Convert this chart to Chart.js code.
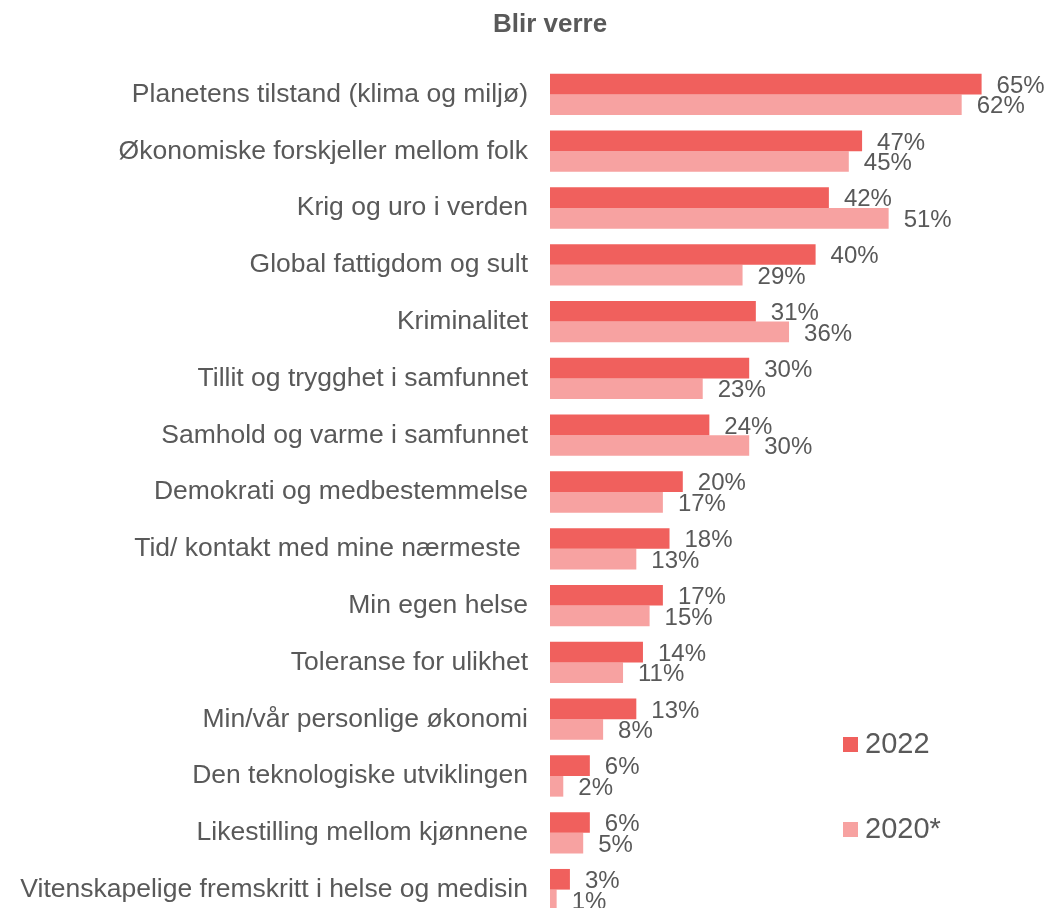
<!DOCTYPE html>
<html>
<head>
<meta charset="utf-8">
<title>Blir verre</title>
<script src="https://cdn.jsdelivr.net/npm/chart.js@4/dist/chart.umd.min.js"></script>
<style>
  html, body { margin: 0; padding: 0; background: #fff; overflow: hidden; }
  #chart { display: block; }
</style>
</head>
<body>
<canvas id="chart" width="1048" height="922"></canvas>
<script>
// data
const categories = [
    'Planetens tilstand (klima og miljø)',
    'Økonomiske forskjeller mellom folk',
    'Krig og uro i verden',
    'Global fattigdom og sult',
    'Kriminalitet',
    'Tillit og trygghet i samfunnet',
    'Samhold og varme i samfunnet',
    'Demokrati og medbestemmelse',
    'Tid/ kontakt med mine nærmeste ',
    'Min egen helse',
    'Toleranse for ulikhet',
    'Min/vår personlige økonomi',
    'Den teknologiske utviklingen',
    'Likestilling mellom kjønnene',
    'Vitenskapelige fremskritt i helse og medisin'
];
const values2022 = [65, 47, 42, 40, 31, 30, 24, 20, 18, 17, 14, 13, 6, 6, 3];
const values2020 = [62, 45, 51, 29, 36, 23, 30, 17, 13, 15, 11, 8, 2, 5, 1];
const seriesNames = ['2022', '2020*'];
const chartTitle = 'Blir verre';

const FONT = '"Liberation Sans", Arial, sans-serif';
const TEXT = '#595959';
const COLORS = ['#F0605D', '#F7A2A1'];

// value labels at the end of every bar
const valueLabels = {
    id: 'valueLabels',
    afterDatasetsDraw(chart) {
        const ctx = chart.ctx;
        ctx.save();
        ctx.font = '24px ' + FONT;
        ctx.fillStyle = TEXT;
        ctx.textAlign = 'left';
        ctx.textBaseline = 'middle';
        chart.data.datasets.forEach((ds, i) => {
            const meta = chart.getDatasetMeta(i);
            meta.data.forEach((bar, j) => {
                ctx.fillText(ds.data[j] + '%', bar.x + 15, bar.y + 2);
            });
        });
        ctx.restore();
    }
};

// title and the legend that sits inside the plot
const titleAndLegend = {
    id: 'titleAndLegend',
    afterDraw(chart) {
        const ctx = chart.ctx;
        const area = chart.chartArea;
        ctx.save();
        ctx.fillStyle = TEXT;
        ctx.font = 'bold 26px ' + FONT;
        ctx.textAlign = 'center';
        ctx.textBaseline = 'middle';
        ctx.fillText(chartTitle, area.left, 25);

        ctx.font = '29px ' + FONT;
        ctx.textAlign = 'left';
        seriesNames.forEach((name, i) => {
            const y = area.top + 678 + i * 85;
            ctx.fillStyle = COLORS[i];
            ctx.fillRect(area.left + 293, y - 7, 15, 15);
            ctx.fillStyle = TEXT;
            ctx.fillText(name, area.left + 315, y + 1);
        });
        ctx.restore();
    }
};

new Chart(document.getElementById('chart'), {
    type: 'bar',
    data: {
        labels: categories,
        datasets: [
            { label: seriesNames[0], data: values2022, backgroundColor: COLORS[0] },
            { label: seriesNames[1], data: values2020, backgroundColor: COLORS[1] }
        ]
    },
    options: {
        indexAxis: 'y',
        responsive: false,
        animation: false,
        layout: { padding: { top: 66, bottom: 4, left: 0, right: 0 } },
        datasets: {
            bar: { categoryPercentage: 0.727, barPercentage: 1.0, borderWidth: 0 }
        },
        scales: {
            x: { display: false, min: 0, max: 75 },
            y: {
                afterFit(scale) {
                    scale.width = 550;
                    scale.paddingTop = 0;
                    scale.paddingBottom = 0;
                },
                grid: { display: false, drawTicks: false },
                border: { display: false },
                ticks: {
                    autoSkip: false,
                    padding: 22,
                    color: TEXT,
                    font: { family: FONT, size: 26.5 }
                }
            }
        },
        plugins: {
            legend: { display: false },
            title: { display: false },
            tooltip: { enabled: false }
        }
    },
    plugins: [valueLabels, titleAndLegend]
});
</script>
</body>
</html>
